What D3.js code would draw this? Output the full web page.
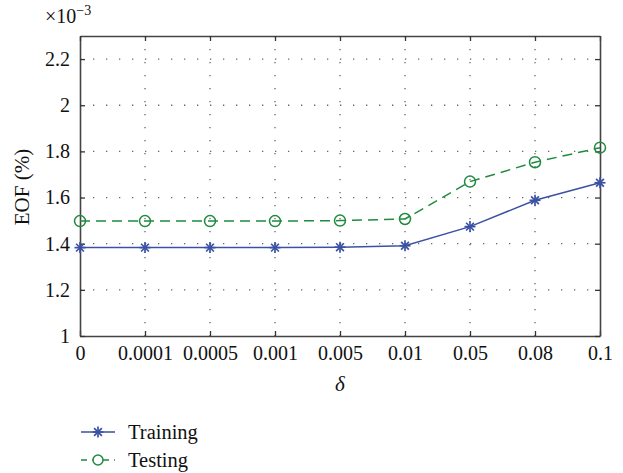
<!DOCTYPE html>
<html>
<head>
<meta charset="utf-8">
<script src="https://cdn.jsdelivr.net/npm/d3@7"></script>
<style>
  body { margin: 0; background: #fff; }
  text { font-family: "Liberation Serif", "DejaVu Serif", serif; fill: #111; }
</style>
</head>
<body>
<div id="chart"></div>
<script>
// categories (delta values) and series, in units of 1e-3
var deltas = ["0", "0.0001", "0.0005", "0.001", "0.005", "0.01", "0.05", "0.08", "0.1"];
var training = [1.383, 1.383, 1.383, 1.383, 1.385, 1.391, 1.474, 1.588, 1.664];
var testing = [1.498, 1.498, 1.498, 1.498, 1.500, 1.507, 1.669, 1.753, 1.816];
var yTicks = [1, 1.2, 1.4, 1.6, 1.8, 2, 2.2];

var W = 623, H = 473;
var margin = {top: 36, right: 23, bottom: 137, left: 80};
var width = W - margin.left - margin.right,
    height = H - margin.top - margin.bottom;

var svg = d3.select("#chart").append("svg")
    .attr("width", W).attr("height", H);
var g = svg.append("g")
    .attr("transform", "translate(" + margin.left + "," + margin.top + ")");

var x = d3.scalePoint().domain(deltas).range([0, width]);
var y = d3.scaleLinear().domain([1, 2.3]).range([height, 0]);

// dotted grid
g.append("g").selectAll("line").data(deltas.slice(1, -1)).enter().append("line")
    .attr("x1", function(d) { return x(d); }).attr("x2", function(d) { return x(d); })
    .attr("y1", 0).attr("y2", height)
    .attr("stroke", "#666").attr("stroke-width", 1.3).attr("stroke-dasharray", "1.3,11.7");
g.append("g").selectAll("line").data(yTicks.slice(1)).enter().append("line")
    .attr("x1", 0).attr("x2", width)
    .attr("y1", function(d) { return y(d); }).attr("y2", function(d) { return y(d); })
    .attr("stroke", "#666").attr("stroke-width", 1.3).attr("stroke-dasharray", "1.3,11.7");

// axes with inward ticks
g.append("g").attr("transform", "translate(0," + height + ")")
    .call(d3.axisBottom(x).tickSizeInner(-5).tickSizeOuter(0).tickPadding(10));
g.append("g")
    .call(d3.axisLeft(y).tickValues(yTicks).tickSizeInner(-5).tickSizeOuter(0).tickPadding(10)
      .tickFormat(function(d) { return d3.format("")(+d.toFixed(1)); }));
g.append("g")
    .call(d3.axisTop(x).tickSizeInner(-5).tickSizeOuter(0).tickFormat(""));
g.append("g").attr("transform", "translate(" + width + ",0)")
    .call(d3.axisRight(y).tickValues(yTicks).tickSizeInner(-5).tickSizeOuter(0).tickFormat(""));
g.selectAll(".domain").attr("stroke", "#444").attr("stroke-width", 1.6);
g.selectAll(".tick line").attr("stroke", "#333").attr("stroke-width", 1.3);
g.selectAll(".tick text").attr("font-size", 20).attr("fill", "#111");

// exponent label
var ex = svg.append("text").attr("x", 45).attr("y", 23).attr("font-size", 20);
ex.append("tspan").text("\u00d710");
ex.append("tspan").attr("dy", -8).attr("font-size", 14).text("\u22123");

// axis titles
svg.append("text").attr("transform", "translate(29," + (margin.top + height / 2 + 1) + ") rotate(-90)")
    .attr("text-anchor", "middle").attr("font-size", 21).text("EOF (%)");
svg.append("text").attr("x", margin.left + width / 2).attr("y", 391)
    .attr("text-anchor", "middle").attr("font-size", 21).attr("font-style", "italic").text("\u03b4");

var blue = "#3b51a3", green = "#1f8b3f";

function star(sel, cx, cy, col) {
  var r = 5.5;
  [0, 45, 90, 135].forEach(function(a) {
    var rad = a * Math.PI / 180;
    sel.append("line")
      .attr("x1", cx - r * Math.cos(rad)).attr("y1", cy - r * Math.sin(rad))
      .attr("x2", cx + r * Math.cos(rad)).attr("y2", cy + r * Math.sin(rad))
      .attr("stroke", col).attr("stroke-width", 1.7);
  });
}

var line = d3.line().x(function(d, i) { return x(deltas[i]); }).y(function(d) { return y(d); });

g.append("path").datum(testing).attr("d", line)
    .attr("fill", "none").attr("stroke", green).attr("stroke-width", 1.5).attr("stroke-dasharray", "10,6");
g.append("path").datum(training).attr("d", line)
    .attr("fill", "none").attr("stroke", blue).attr("stroke-width", 1.5);

g.append("g").selectAll("circle").data(testing).enter().append("circle")
    .attr("cx", function(d, i) { return x(deltas[i]); }).attr("cy", function(d) { return y(d); })
    .attr("r", 5.5).attr("fill", "none").attr("stroke", green).attr("stroke-width", 1.5);
var sg = g.append("g");
training.forEach(function(d, i) { star(sg, x(deltas[i]), y(d), blue); });

// legend
var lg = svg.append("g");
lg.append("line").attr("x1", 81).attr("x2", 115).attr("y1", 432).attr("y2", 432)
    .attr("stroke", blue).attr("stroke-width", 1.5);
star(lg, 98, 432, blue);
lg.append("text").attr("x", 128).attr("y", 439).attr("font-size", 20.5).text("Training");
lg.append("line").attr("x1", 81).attr("x2", 115).attr("y1", 460).attr("y2", 460)
    .attr("stroke", green).attr("stroke-width", 1.5).attr("stroke-dasharray", "6,5");
lg.append("circle").attr("cx", 98).attr("cy", 460).attr("r", 5)
    .attr("fill", "#fff").attr("stroke", green).attr("stroke-width", 1.5);
lg.append("text").attr("x", 128).attr("y", 467).attr("font-size", 20.5).text("Testing");
</script>
</body>
</html>
